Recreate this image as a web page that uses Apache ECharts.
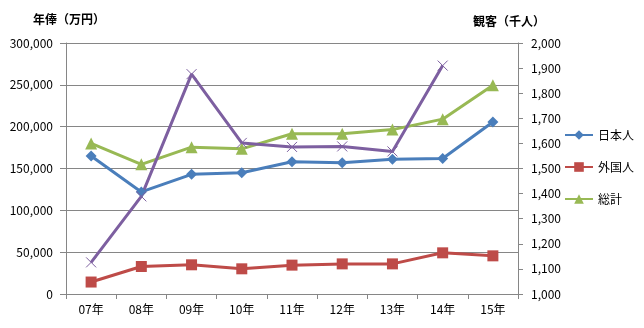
<!DOCTYPE html>
<html>
<head>
<meta charset="utf-8">
<script src="https://cdn.jsdelivr.net/npm/echarts@6/dist/echarts.min.js"></script>
<style>
  html, body { margin: 0; padding: 0; background: #fff; }
  #chart { width: 644px; height: 328px; }
</style>
</head>
<body>
<div id="chart"></div>
<script>
// Years on the category axis
const years = ['07年', '08年', '09年', '10年', '11年', '12年', '13年', '14年', '15年'];

// Annual salary (万円), left axis
const japanese = [165000, 122000, 143000, 145000, 158000, 157000, 161000, 162000, 205500];
const foreign = [14300, 32900, 34900, 30100, 34500, 36000, 36000, 49200, 45600];
const total = [180000, 155000, 175500, 173500, 191500, 191500, 196500, 209000, 249500];

// Spectators (千人), right axis
const spectators = [1126, 1389, 1876, 1602, 1586, 1588, 1568, 1910, null];

const leftTicks = { min: 0, max: 300000, interval: 50000 };
const rightTicks = { min: 1000, max: 2000, interval: 100 };

const FONT = '"Noto Sans CJK JP", "Noto Sans", sans-serif';
const AXIS_GRAY = '#868686';
const fmt = v => Number(v).toLocaleString('en-US');

const chart = echarts.init(document.getElementById('chart'), null, { renderer: 'canvas' });

chart.setOption({
  animation: false,
  backgroundColor: '#ffffff',
  textStyle: { fontFamily: FONT },
  grid: { left: 66, right: 126, top: 43, bottom: 34, containLabel: false },
  legend: {
    data: ['日本人', '外国人', '総計'],
    orient: 'vertical',
    left: 559,
    top: 124,
    itemWidth: 28,
    itemHeight: 12,
    itemGap: 20,
    textStyle: { fontFamily: FONT, fontSize: 12, color: '#000' }
  },
  graphic: [
    { type: 'text', left: 33, top: 13, style: { text: '年俸（万円）', font: 'bold 12px ' + FONT, fill: '#000' } },
    { type: 'text', left: 473, top: 15, style: { text: '観客（千人）', font: 'bold 12px ' + FONT, fill: '#000' } }
  ],
  xAxis: {
    type: 'category',
    data: years,
    boundaryGap: true,
    axisLine: { lineStyle: { color: AXIS_GRAY, width: 1 } },
    axisTick: { show: true, alignWithLabel: false, length: 5, lineStyle: { color: AXIS_GRAY } },
    axisLabel: { color: '#000', fontSize: 12, margin: 9, fontFamily: FONT }
  },
  yAxis: [
    {
      type: 'value',
      min: leftTicks.min, max: leftTicks.max, interval: leftTicks.interval,
      axisLine: { show: true, lineStyle: { color: AXIS_GRAY } },
      axisTick: { show: true, length: 6, lineStyle: { color: AXIS_GRAY } },
      splitLine: { show: true, lineStyle: { color: AXIS_GRAY, width: 1 } },
      axisLabel: { color: '#000', fontSize: 12, margin: 13, formatter: fmt, fontFamily: FONT }
    },
    {
      type: 'value',
      position: 'right',
      min: rightTicks.min, max: rightTicks.max, interval: rightTicks.interval,
      axisLine: { show: true, lineStyle: { color: AXIS_GRAY } },
      axisTick: { show: true, length: 5, lineStyle: { color: AXIS_GRAY } },
      splitLine: { show: false },
      axisLabel: { color: '#000', fontSize: 12, margin: 13, formatter: fmt, fontFamily: FONT }
    }
  ],
  series: [
    {
      name: '日本人', type: 'line', data: japanese, yAxisIndex: 0,
      symbol: 'diamond', symbolSize: 11,
      lineStyle: { color: '#4a7ebb', width: 3 },
      itemStyle: { color: '#4a7ebb' }
    },
    {
      name: '外国人', type: 'line', data: foreign, yAxisIndex: 0,
      symbol: 'rect', symbolSize: 11,
      lineStyle: { color: '#be4b48', width: 3 },
      itemStyle: { color: '#be4b48' }
    },
    {
      name: '総計', type: 'line', data: total, yAxisIndex: 0,
      symbol: 'triangle', symbolSize: 12,
      lineStyle: { color: '#98b954', width: 3 },
      itemStyle: { color: '#98b954' }
    },
    {
      name: '観客', type: 'line', data: spectators, yAxisIndex: 1,
      symbol: 'path://M0,0L10,10M10,0L0,10', symbolSize: 10,
      connectNulls: false,
      lineStyle: { color: '#7d5fa0', width: 3 },
      itemStyle: { color: 'rgba(0,0,0,0)', borderColor: '#7d5fa0', borderWidth: 1 }
    }
  ]
});
</script>
</body>
</html>
